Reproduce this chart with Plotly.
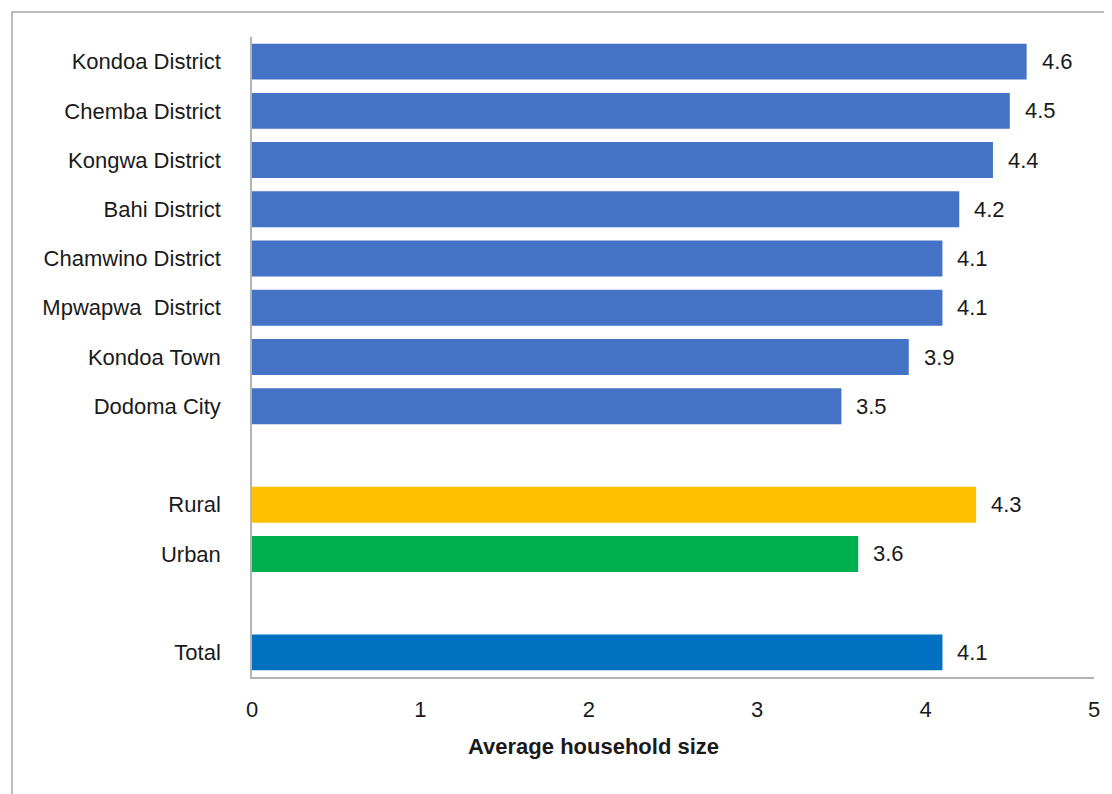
import plotly.graph_objects as go

categories = ["Kondoa District", "Chemba District", "Kongwa District", "Bahi District",
              "Chamwino District", "Mpwapwa  District", "Kondoa Town", "Dodoma City",
              "Rural", "Urban", "Total"]
values = [4.6, 4.5, 4.4, 4.2, 4.1, 4.1, 3.9, 3.5, 4.3, 3.6, 4.1]
colors = ["#4472C4"] * 8 + ["#FFC000", "#00B050", "#0070C0"]
x_ticks = [0, 1, 2, 3, 4, 5]
x_title = "Average household size"

# category order with blank spacer rows between groups
order = categories[:8] + [" "] + categories[8:10] + ["  "] + categories[10:]

FONT = "Liberation Sans, Arial, sans-serif"
FS = 22

fig = go.Figure()
fig.add_trace(go.Bar(
    x=values, y=categories, orientation="h",
    marker=dict(color=colors, line=dict(width=0)),
    width=0.73, hoverinfo="x+y",
))

for c, v in zip(categories, values):
    fig.add_annotation(x=v, y=c, text=f"{v:.1f}", showarrow=False,
                       xanchor="left", xshift=13,
                       font=dict(family=FONT, size=FS, color="#1a1a1a"))

fig.add_annotation(x=0.405, xref="paper", y=-0.109, yref="paper",
                   text=f"<b>{x_title}</b>", showarrow=False,
                   xanchor="center", yanchor="middle",
                   font=dict(family=FONT, size=FS, color="#1a1a1a"))

# outer chart border
fig.add_shape(type="rect", xref="paper", yref="paper",
              x0=-0.285, x1=1.1, y0=-0.3, y1=1.039,
              line=dict(color="#A6A6A6", width=1.5), fillcolor="rgba(0,0,0,0)",
              layer="below")

fig.update_layout(
    width=1104, height=786,
    margin=dict(l=244, r=18, t=29, b=117),
    paper_bgcolor="white", plot_bgcolor="white",
    showlegend=False,
    font=dict(family=FONT, size=FS, color="#1a1a1a"),
    xaxis=dict(range=[0, 5], tickvals=x_ticks, showgrid=False, zeroline=False,
               showline=True, linecolor="#B4B4B4", linewidth=1.5,
               ticks="", ticklabelstandoff=12,
               tickfont=dict(family=FONT, size=FS, color="#1a1a1a")),
    yaxis=dict(type="category", categoryorder="array", categoryarray=order,
               showgrid=False, zeroline=False,
               showline=True, linecolor="#B4B4B4", linewidth=1.5,
               ticks="", ticklabelstandoff=25,
               tickfont=dict(family=FONT, size=FS, color="#1a1a1a")),
)
fig.update_yaxes(range=[len(order) - 0.5, -0.5], autorange=False)

fig.write_html("out.html")
